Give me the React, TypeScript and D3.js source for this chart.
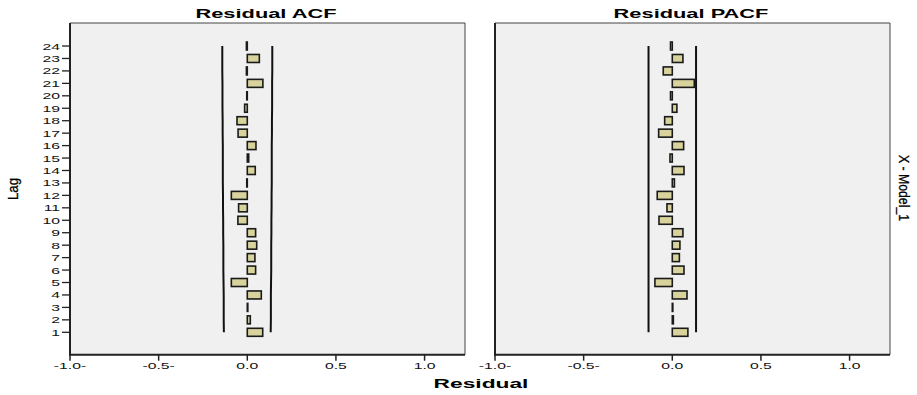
import React from "react";
import * as d3 from "d3";

// Residual autocorrelations by lag (1..24)
const lags = d3.range(1, 25);
const acfValues = [
  0.087, 0.017, 0.003, 0.079, -0.09, 0.047, 0.043, 0.053, 0.047, -0.053, -0.049, -0.09,
  -0.003, 0.045, 0.008, 0.049, -0.052, -0.058, -0.015, -0.003, 0.088, -0.005, 0.068, -0.005,
];
const pacfValues = [
  0.088, 0.006, 0.003, 0.083, -0.098, 0.066, 0.04, 0.043, 0.06, -0.075, -0.03, -0.085,
  0.012, 0.066, -0.013, 0.064, -0.077, -0.043, 0.026, -0.01, 0.124, -0.051, 0.06, -0.01,
];
// 95% confidence limits
const acfLimits = [
  0.132, 0.133, 0.133, 0.133, 0.134, 0.135, 0.135, 0.135, 0.136, 0.136, 0.137, 0.137,
  0.138, 0.138, 0.138, 0.138, 0.139, 0.139, 0.14, 0.14, 0.14, 0.141, 0.141, 0.141,
];
const pacfLimit = 0.134;
const xTicks = [-1, -0.5, 0, 0.5, 1];
const xTickLabels = ["-1.0-", "-0.5-", "0.0", "0.5", "1.0"];

const W = 917;
const H = 395;
const plotTop = 23;
const plotBottom = 354.7;
const panelWidth = 395;
const panels = [
  { title: "Residual ACF", left: 70, values: acfValues, limits: acfLimits, showY: true },
  { title: "Residual PACF", left: 495, values: pacfValues, limits: lags.map(() => pacfLimit), showY: false },
];

const font = "'Liberation Sans', Arial, sans-serif";
const barFill = "#d8d39c";
const stretch = 1.75;

const yScale = d3.scaleLinear().domain([-0.8, 25.85]).range([plotBottom, plotTop]);

function Panel({ p }: { p: (typeof panels)[number] }) {
  const x = d3.scaleLinear().domain([-1, 1.228]).range([p.left, p.left + panelWidth]);
  const right = p.left + panelWidth;
  const barH = 8;
  const upper = d3
    .line<number>()
    .x((_, i) => x(p.limits[i]))
    .y((_, i) => yScale(lags[i]));
  const lower = d3
    .line<number>()
    .x((_, i) => x(-p.limits[i]))
    .y((_, i) => yScale(lags[i]));
  return (
    <g>
      <rect x={p.left} y={plotTop} width={panelWidth} height={plotBottom - plotTop} fill="#f0f0f0" />
      <line x1={p.left} x2={right} y1={plotTop} y2={plotTop} stroke="#444" strokeWidth={1} />
      <line x1={right} x2={right} y1={plotTop} y2={plotBottom} stroke="#444" strokeWidth={1} />
      {/* confidence limits */}
      <path d={upper(lags) ?? ""} fill="none" stroke="#111" strokeWidth={2} />
      <path d={lower(lags) ?? ""} fill="none" stroke="#111" strokeWidth={2} />
      {/* bars */}
      {lags.map((lag, i) => {
        const v = p.values[i];
        const x0 = Math.min(x(0), x(v));
        const w = Math.abs(x(v) - x(0));
        return (
          <rect
            key={lag}
            x={x0}
            y={yScale(lag) - barH / 2}
            width={w}
            height={barH}
            fill={barFill}
            stroke="#1a1a1a"
            strokeWidth={1.6}
          />
        );
      })}
      {/* axes */}
      <line x1={p.left} x2={p.left} y1={plotTop} y2={plotBottom + 1} stroke="#222" strokeWidth={2} />
      <line x1={p.left} x2={right} y1={plotBottom} y2={plotBottom} stroke="#222" strokeWidth={2} />
      {xTicks.map((t, i) => (
        <g key={t}>
          <line x1={x(t)} x2={x(t)} y1={plotBottom} y2={plotBottom + 6} stroke="#222" strokeWidth={1.5} />
          <text
            transform={`translate(${x(t)},${369}) scale(${stretch},1)`}
            textAnchor="middle"
            fontSize={9}
            fontFamily={font}
            fill="#111"
          >
            {xTickLabels[i]}
          </text>
        </g>
      ))}
      {p.showY &&
        lags.map((lag) => (
          <g key={lag}>
            <line x1={p.left - 8} x2={p.left} y1={yScale(lag)} y2={yScale(lag)} stroke="#222" strokeWidth={1.3} />
            <text
              transform={`translate(${p.left - 10},${yScale(lag) + 3.5}) scale(${stretch},1)`}
              textAnchor="end"
              fontSize={9}
              fontFamily={font}
              fill="#111"
            >
              {lag}
            </text>
          </g>
        ))}
      <text
        transform={`translate(${p.left + panelWidth / 2 - 1.5},17.5) scale(1.82,1)`}
        textAnchor="middle"
        fontSize={12}
        fontWeight="bold"
        fontFamily={font}
        fill="#000"
      >
        {p.title}
      </text>
    </g>
  );
}

export default function App() {
  return (
    <svg width={W} height={H} style={{ position: "absolute", left: 0, top: 0, background: "#fff" }}>
      {panels.map((p) => (
        <Panel key={p.title} p={p} />
      ))}
      <text
        transform="translate(481,388) scale(1.75,1)"
        textAnchor="middle"
        fontSize={13}
        fontWeight="bold"
        fontFamily={font}
        fill="#000"
      >
        Residual
      </text>
      <text
        transform="translate(17.5,189) rotate(-90)"
        textAnchor="middle"
        fontSize={15}
        fontFamily={font}
        textLength={22}
        lengthAdjust="spacingAndGlyphs"
        stroke="#000"
        strokeWidth={0.3}
        fill="#000"
      >
        Lag
      </text>
      <text
        transform="translate(898.5,188) rotate(90)"
        textAnchor="middle"
        fontSize={14}
        fontFamily={font}
        textLength={66}
        lengthAdjust="spacingAndGlyphs"
        stroke="#000"
        strokeWidth={0.3}
        fill="#000"
      >
        X - Model_1
      </text>
    </svg>
  );
}
